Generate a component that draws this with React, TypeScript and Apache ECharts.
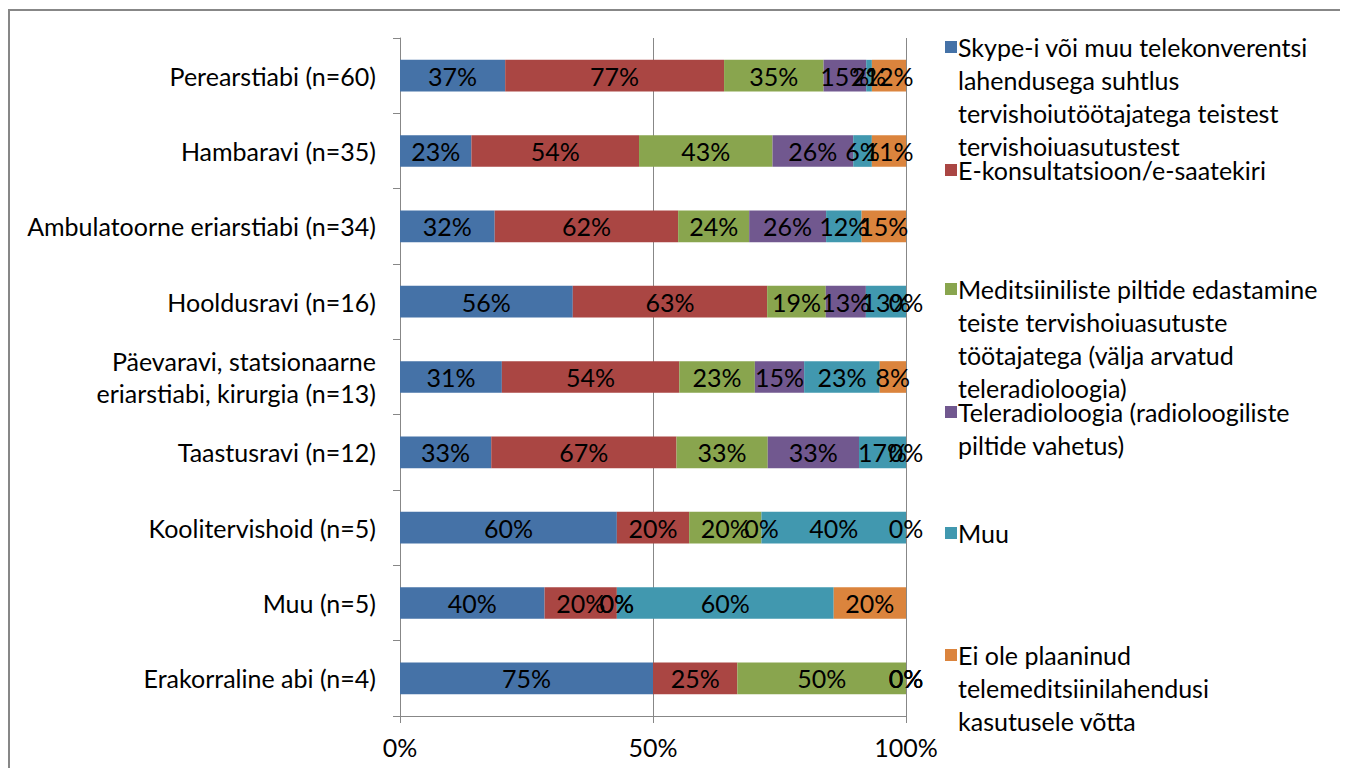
import React, { useEffect, useRef } from "react";
import * as echarts from "echarts";

const categories = [
  "Perearstiabi (n=60)",
  "Hambaravi (n=35)",
  "Ambulatoorne eriarstiabi (n=34)",
  "Hooldusravi (n=16)",
  "Päevaravi, statsionaarne\neriarstiabi, kirurgia (n=13)",
  "Taastusravi (n=12)",
  "Koolitervishoid (n=5)",
  "Muu (n=5)",
  "Erakorraline abi (n=4)",
];

const seriesNames = [
  "Skype-i või muu telekonverentsi lahendusega suhtlus tervishoiutöötajatega teistest tervishoiuasutustest",
  "E-konsultatsioon/e-saatekiri",
  "Meditsiiniliste piltide edastamine teiste tervishoiuasutuste töötajatega (välja arvatud teleradioloogia)",
  "Teleradioloogia (radioloogiliste piltide vahetus)",
  "Muu",
  "Ei ole plaaninud telemeditsiinilahendusi kasutusele võtta",
];

const legendLines = [
  ["Skype-i või muu telekonverentsi", "lahendusega suhtlus", "tervishoiutöötajatega teistest", "tervishoiuasutustest"],
  ["E-konsultatsioon/e-saatekiri"],
  ["Meditsiiniliste piltide edastamine", "teiste tervishoiuasutuste", "töötajatega (välja arvatud", "teleradioloogia)"],
  ["Teleradioloogia (radioloogiliste", "piltide vahetus)"],
  ["Muu"],
  ["Ei ole plaaninud", "telemeditsiinilahendusi", "kasutusele võtta"],
];

const colors = ["#4572A7", "#AA4643", "#89A54E", "#71588F", "#4198AF", "#DB843D"];

// raw percentages per series, in category order
const skype = [37, 23, 32, 56, 31, 33, 60, 40, 75];
const eKonsultatsioon = [77, 54, 62, 63, 54, 67, 20, 20, 25];
const pildid = [35, 43, 24, 19, 23, 33, 20, 0, 50];
const teleradioloogia = [15, 26, 26, 13, 15, 33, 0, 0, 0];
const muu = [2, 6, 12, 13, 23, 17, 40, 60, 0];
const eiOle = [12, 11, 15, 0, 8, 0, 0, 20, 0];

const seriesValues = [skype, eKonsultatsioon, pildid, teleradioloogia, muu, eiOle];

const xTicks = [0, 50, 100];

const legendFirstLineY = [47, 170, 289, 412, 533, 655];

export default function App() {
  const ref = useRef<HTMLDivElement>(null);
  useEffect(() => {
    if (!ref.current) return;
    const chart = echarts.init(ref.current, null, { renderer: "svg" });
    const font = "Lato, 'Open Sans', sans-serif";
    const fs = 25;
    const totals = categories.map((_, i) =>
      seriesValues.reduce((s, arr) => s + arr[i], 0)
    );
    const series = seriesValues.map((arr, si) => ({
      type: "bar",
      name: seriesNames[si],
      stack: "total",
      barWidth: "42%",
      itemStyle: { color: colors[si] },
      label: {
        show: true,
        position: "inside",
        color: "#000",
        fontSize: fs,
        fontFamily: font,
        formatter: (p: any) => `${p.data.raw}%`,
      },
      data: arr.map((v, i) => ({ value: (v / totals[i]) * 100, raw: v })),
    }));

    const graphics: any[] = [
      {
        type: "rect",
        shape: { x: 1, y: 2, width: 1334, height: 900 },
        style: { fill: "none", stroke: "#878787", lineWidth: 2 },
        silent: true,
      },
    ];
    legendLines.forEach((lines, i) => {
      const cy = legendFirstLineY[i] - 8;
      graphics.push({
        type: "rect",
        shape: { x: 937, y: cy - 6, width: 12, height: 12 },
        style: { fill: colors[i] },
      });
      graphics.push({
        type: "text",
        x: 950,
        y: cy - 16.5,
        style: {
          text: lines.join("\n"),
          fontSize: fs,
          fontFamily: font,
          fill: "#000",
          lineHeight: 33,
          verticalAlign: "top",
          align: "left",
        },
      });
    });

    chart.setOption({
      animation: false,
      grid: { left: 392, right: 442, top: 30, bottom: 52, containLabel: false },
      xAxis: {
        type: "value",
        min: xTicks[0],
        max: xTicks[xTicks.length - 1],
        interval: 50,
        axisLine: { show: true, lineStyle: { color: "#878787", width: 1 } },
        axisTick: { show: true, length: 7, lineStyle: { color: "#878787" } },
        splitLine: { show: true, lineStyle: { color: "#878787", width: 1 } },
        axisLabel: {
          formatter: "{value}%",
          fontSize: fs,
          fontFamily: font,
          color: "#000",
          margin: 18,
        },
      },
      yAxis: {
        type: "category",
        data: categories,
        inverse: true,
        axisLine: { show: true, lineStyle: { color: "#878787", width: 1 } },
        axisTick: { show: true, length: 7, lineStyle: { color: "#878787" } },
        axisLabel: {
          fontSize: fs,
          fontFamily: font,
          color: "#000",
          margin: 24,
          lineHeight: 32,
          align: "right",
        },
      },
      legend: { show: false },
      graphic: graphics,
      series,
    });
    return () => chart.dispose();
  }, []);
  return <div ref={ref} style={{ width: 1340, height: 760 }} />;
}
